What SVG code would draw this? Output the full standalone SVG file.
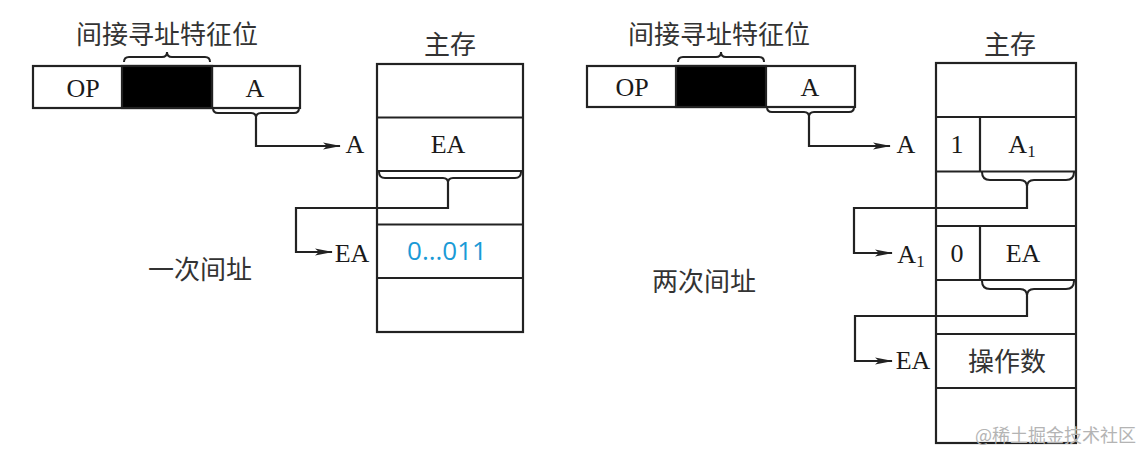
<svg xmlns="http://www.w3.org/2000/svg" width="1141" height="453" viewBox="0 0 1141 453">
<style>
.box{fill:#fff;stroke:#222;stroke-width:2.2}
.ln{fill:none;stroke:#222;stroke-width:2.2}
.br{fill:none;stroke:#222;stroke-width:2}
.blk{fill:#000;stroke:#222;stroke-width:2.2}
.t{font-family:"Liberation Serif","Noto Sans CJK SC",serif;font-size:26px;fill:#1a1a1a;text-anchor:middle}
.cjk{font-family:"Noto Sans CJK SC","Liberation Serif",sans-serif;font-size:26px;fill:#333;text-anchor:middle;font-weight:400}
.blue{font-family:"Open Sans","Liberation Sans",sans-serif;font-size:26px;fill:#1a9ad6;text-anchor:middle}
.wm{font-family:"Noto Sans CJK SC",sans-serif;font-size:18px;fill:#b4b4b4;text-anchor:start}
</style>
<defs>
<marker id="arr" viewBox="0 0 18 9" refX="17" refY="4.5" markerWidth="18" markerHeight="9" markerUnits="userSpaceOnUse" orient="auto">
<path d="M0 1 L18 4.5 L0 8 L4 4.5 Z" fill="#222"/>
</marker>
</defs>

<g id="left-instruction">
<rect class="box" x="33" y="66" width="267" height="42"/>
<rect class="blk" x="122" y="66" width="90" height="42"/>
<line class="ln" x1="212" y1="66" x2="212" y2="108"/>
<text class="t" x="83" y="97">OP</text>
<text class="t" x="255" y="97">A</text>
<text class="cjk" x="167" y="44">间接寻址特征位</text>
<path class="br" d="M124 62 Q124 57 129 57 H162 Q167 57 167 52 Q167 57 172 57 H205 Q210 57 210 62"/>
<path class="br" d="M213 108 Q213 113 218 113 H251 Q256 113 256 118 Q256 113 261 113 H294 Q299 113 299 108"/>
</g>

<g id="left-memory">
<text class="cjk" x="450" y="54">主存</text>
<rect class="box" x="377" y="64" width="146" height="268"/>
<line class="ln" x1="377" y1="117.5" x2="523" y2="117.5"/>
<line class="ln" x1="377" y1="171" x2="523" y2="171"/>
<line class="ln" x1="377" y1="224.5" x2="523" y2="224.5"/>
<line class="ln" x1="377" y1="278" x2="523" y2="278"/>
<text class="t" x="448" y="153">EA</text>
<text class="blue" x="447" y="260">0...011</text>
<path class="br" d="M379 172 Q379 178 385 178 H443 Q448 178 448 183 Q448 178 453 178 H515 Q521 178 521 172"/>
<text class="t" x="355" y="153">A</text>
<text class="t" x="352" y="262">EA</text>
</g>

<g id="left-caption">
<text class="cjk" x="200" y="279">一次间址</text>
</g>

<g id="right-instruction">
<rect class="box" x="587" y="66" width="268" height="41"/>
<rect class="blk" x="676" y="66" width="90" height="41"/>
<text class="t" x="632" y="96">OP</text>
<text class="t" x="810" y="96">A</text>
<text class="cjk" x="719" y="44">间接寻址特征位</text>
<path class="br" d="M678 62 Q678 57 683 57 H716 Q721 57 721 52 Q721 57 726 57 H759 Q764 57 764 62"/>
<path class="br" d="M767 107 Q767 112 772 112 H804 Q809 112 809 117 Q809 112 814 112 H849 Q854 112 854 107"/>
</g>

<g id="right-memory">
<text class="cjk" x="1010" y="54">主存</text>
<rect class="box" x="936" y="63" width="140" height="380"/>
<line class="ln" x1="936" y1="117" x2="1076" y2="117"/>
<line class="ln" x1="936" y1="171.5" x2="1076" y2="171.5"/>
<line class="ln" x1="936" y1="226" x2="1076" y2="226"/>
<line class="ln" x1="936" y1="280" x2="1076" y2="280"/>
<line class="ln" x1="936" y1="334" x2="1076" y2="334"/>
<line class="ln" x1="936" y1="388" x2="1076" y2="388"/>
<line class="ln" x1="980" y1="117" x2="980" y2="171.5"/>
<line class="ln" x1="980" y1="226" x2="980" y2="280"/>
<text class="t" x="957" y="153">1</text>
<text class="t" x="1022" y="153">A<tspan font-size="17" dy="4">1</tspan></text>
<text class="t" x="957" y="262">0</text>
<text class="t" x="1023" y="262">EA</text>
<text class="cjk" x="1007" y="371">操作数</text>
<path class="br" d="M982 172 Q982 180 990 180 H1020 Q1027 180 1027 187 Q1027 180 1034 180 H1066 Q1074 180 1074 172"/>
<path class="br" d="M982 281 Q982 289 990 289 H1020 Q1027 289 1027 296 Q1027 289 1034 289 H1066 Q1074 289 1074 281"/>
<text class="t" x="906" y="153">A</text>
<text class="t" x="911" y="263">A<tspan font-size="17" dy="4">1</tspan></text>
<text class="t" x="913" y="369">EA</text>
</g>

<g id="right-caption">
<text class="cjk" x="704" y="291">两次间址</text>
</g>

<g id="connectors">
<path class="ln" d="M256 118 V146 H340" marker-end="url(#arr)"/>
<path class="ln" d="M448 183 V208 H296 V252 H332" marker-end="url(#arr)"/>
<path class="ln" d="M809 117 V146 H890" marker-end="url(#arr)"/>
<path class="ln" d="M1027 187 V208 H854 V253 H892" marker-end="url(#arr)"/>
<path class="ln" d="M1027 296 V316 H855 V361 H892" marker-end="url(#arr)"/>
</g>

<text class="wm" x="975" y="442">@稀土掘金技术社区</text>
</svg>
